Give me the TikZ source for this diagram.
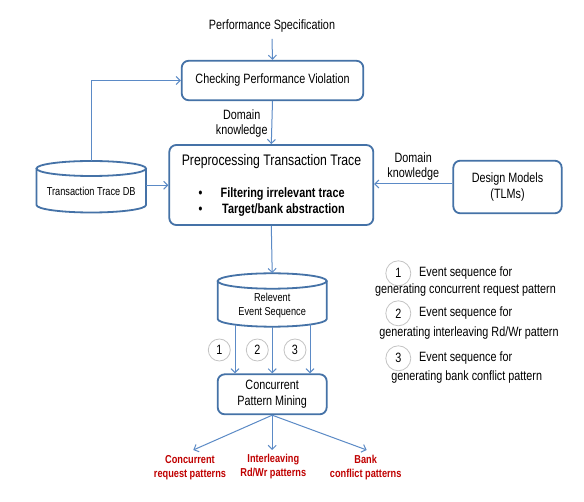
\documentclass[tikz,border=0pt]{standalone}
\usepackage{fontspec}
\setmainfont[FakeStretch=0.8]{Liberation Sans}
\usetikzlibrary{arrows.meta}
\definecolor{boxblue}{HTML}{4572A7}
\definecolor{lineblue}{HTML}{5B8AC6}
\definecolor{outred}{HTML}{C00000}
\definecolor{circgray}{HTML}{C4C4C4}
\begin{document}
\begin{tikzpicture}[x=1pt,y=-1pt,
  base/.style={inner sep=0pt, align=center, font=\fontsize{13.5}{15.5}\selectfont},
  boldtxt/.style={inner sep=0pt, anchor=west, font=\fontsize{13.6}{15.5}\selectfont\bfseries},
  smalltxt/.style={inner sep=0pt, align=center, font=\fontsize{11.5}{13.5}\selectfont},
  redtxt/.style={inner sep=0pt, align=center, text=outred, font=\fontsize{11.5}{14}\selectfont\bfseries},
  boxnode/.style={base, draw=boxblue, line width=1.8pt, rounded corners=7pt},
  cyl/.style={draw=boxblue, line width=1.8pt},
  conn/.style={draw=lineblue, line width=1pt, -{Straight Barb[length=4pt,width=8pt]}},
  numc/.style={base, circle, draw=circgray, line width=0.8pt, minimum size=22pt},
  legc/.style={base, circle, draw=circgray, line width=0.8pt, minimum size=25pt}]
\useasboundingbox (0,0) rectangle (584,502);
\fill[white] (0,0) rectangle (584,502);

% top
\node[base] (perf) at (272,26.5) {Performance Specification};
\node[boxnode, minimum width=181.6pt, minimum height=39.5pt] (check) at (272.5,80.5) {Checking Performance Violation};
\node[base] (dk1) at (241.7,123.5) {Domain\\knowledge};

% preprocessing
\node[boxnode, minimum width=204pt, minimum height=80pt] (prep) at (271.3,185) {};
\node[inner sep=0pt, font=\fontsize{15.3}{17}\selectfont] (ptitle) at (271.5,162) {Preprocessing Transaction Trace};
\node[boldtxt] (b1) at (198.5,194) {•};
\node[boldtxt] (t1) at (220.5,194) {Filtering irrelevant trace};
\node[boldtxt] (b2) at (198.5,210.5) {•};
\node[boldtxt] (t2) at (222,210.5) {Target/bank abstraction};

% transaction trace DB cylinder
\draw[cyl] (36.5,168.5) -- (36.5,205) arc[start angle=180, end angle=360, x radius=54.75pt, y radius=7.5pt] -- (146,168.5);
\draw[cyl] (91.25,168.5) ellipse [x radius=54.75pt, y radius=7.5pt];
\node[smalltxt, minimum width=109.5pt, minimum height=51.5pt] (db) at (91.25,186.75) {};
\node[smalltxt] (dbt) at (91.25,191) {Transaction Trace DB};

% design models
\node[boxnode, minimum width=108.4pt, minimum height=52.6pt] (design) at (507.5,187) {Design Models\\(TLMs)};
\node[base] (dk2) at (413.3,166.7) {Domain\\knowledge};

% relevant event sequence cylinder
\draw[cyl] (217.7,281) -- (217.7,319) arc[start angle=180, end angle=360, x radius=54.5pt, y radius=7.7pt] -- (326.7,281);
\draw[cyl] (272.2,281) ellipse [x radius=54.5pt, y radius=7.7pt];
\node[smalltxt, minimum width=109pt, minimum height=53.4pt] (rel) at (272.2,300) {};
\node[smalltxt] (relt) at (272.2,305.5) {Relevent\\Event Sequence};

% concurrent pattern mining
\node[boxnode, minimum width=109pt, minimum height=40pt] (conc) at (272.2,394.3) {Concurrent\\Pattern Mining};

% numbered circles
\node[numc] (n1) at (219.3,350) {1};
\node[numc] (n2) at (257.3,350) {2};
\node[numc] (n3) at (295,350) {3};

\coordinate (a1) at (235,324.6);
\coordinate (a2) at (272.2,326.7);
\coordinate (a3) at (310,324.5);

% outputs
\node[redtxt] (o1) at (190,468) {Concurrent\\request patterns};
\node[redtxt] (o2) at (273.3,467) {Interleaving\\Rd/Wr patterns};
\node[redtxt] (o3) at (365.7,468) {Bank\\conflict patterns};
\coordinate (e1) at (193.3,450);
\coordinate (e2) at (272.2,450);
\coordinate (e3) at (366.7,450);

% legend
\node[legc] (l1) at (398.3,273.3) {1};
\node[base, anchor=west] (l1a) at (419,273.3) {Event sequence for};
\node[base] (l1b) at (465.5,290) {generating concurrent request pattern};
\node[legc] (l2) at (398.3,313.3) {2};
\node[base, anchor=west] (l2a) at (419,313.3) {Event sequence for};
\node[base] (l2b) at (468.9,333.3) {generating interleaving Rd/Wr pattern};
\node[legc] (l3) at (398.3,358.3) {3};
\node[base, anchor=west] (l3a) at (419,358.3) {Event sequence for};
\node[base] (l3b) at (466.7,376.7) {generating bank conflict pattern};

% connectors
\draw[conn] ([yshift=-6pt]perf.south) -- (check.north);
\draw[conn] (check.south) -- (prep.north);
\draw[conn] (db.north) |- (check.west);
\draw[conn] ([yshift=1.5pt]db.east) -- ([yshift=1.5pt]db.east -| prep.west);
\draw[conn] ([yshift=3pt]design.west) -- ([yshift=3pt]design.west -| prep.east);
\draw[conn] (prep.south) -- (rel.north);
\draw[conn] (a1) -- (a1 |- conc.north);
\draw[conn] (a2) -- (a2 |- conc.north);
\draw[conn] (a3) -- (a3 |- conc.north);
\draw[conn] (conc.south) -- (e1);
\draw[conn] (conc.south) -- (e2);
\draw[conn] (conc.south) -- (e3);
\end{tikzpicture}
\end{document}
